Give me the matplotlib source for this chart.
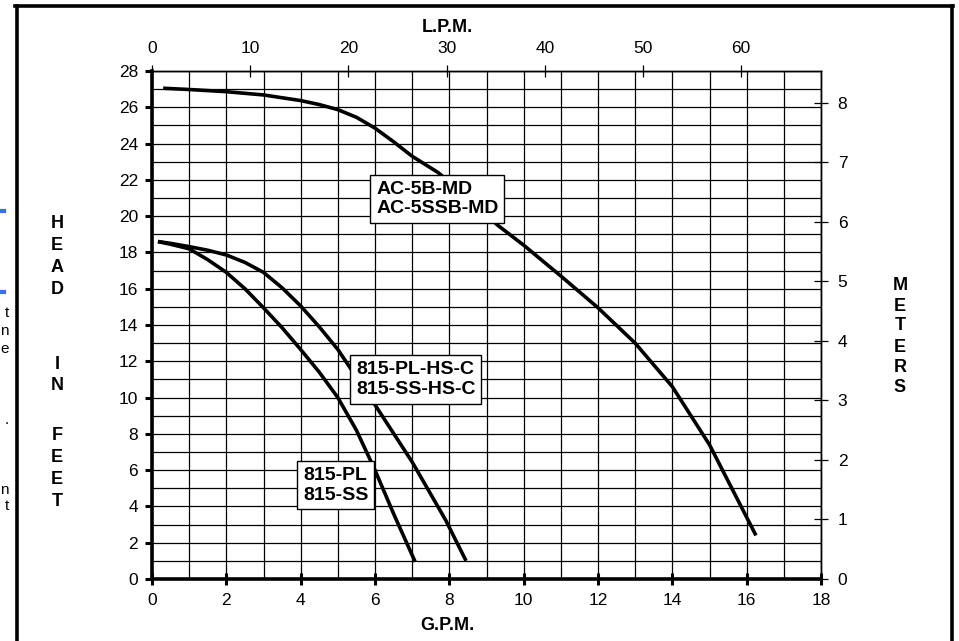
import matplotlib
import matplotlib.pyplot as plt
from matplotlib.lines import Line2D
matplotlib.use('agg')

plt.rcParams['font.family'] = ['Liberation Sans', 'DejaVu Sans']

# pump curves, head (ft) against flow (gpm)
ac_gpm = [0.3, 1, 2, 3, 4, 4.5, 5, 5.5, 6, 6.5, 7, 7.7, 8.5, 9.3, 10, 11, 12, 13, 14, 15, 16, 16.25]
ac_ft = [27.05, 26.98, 26.86, 26.68, 26.37, 26.15, 25.87, 25.45, 24.85, 24.1, 23.3, 22.4, 21.0, 19.5, 18.4, 16.7, 14.95, 13.0, 10.6, 7.4, 3.4, 2.4]

hsc_gpm = [0.16, 0.5, 1.0, 1.5, 2.0, 2.5, 3.0, 3.5, 4.0, 4.5, 5.0, 6.0, 7.0, 7.9, 8.45]
hsc_ft = [18.6, 18.5, 18.32, 18.12, 17.86, 17.45, 16.9, 16.05, 15.05, 13.9, 12.65, 9.6, 6.45, 3.25, 1.0]

pl_gpm = [0.16, 0.5, 1.0, 1.5, 2.0, 2.5, 3.0, 3.5, 4.0, 4.5, 5.0, 5.5, 6.0, 6.5, 7.08]
pl_ft = [18.6, 18.45, 18.2, 17.6, 16.9, 16.0, 14.95, 13.85, 12.65, 11.4, 10.0, 8.2, 6.0, 3.6, 0.95]

labels = ['AC-5B-MD\nAC-5SSB-MD', '815-PL-HS-C\n815-SS-HS-C', '815-PL\n815-SS']
label_x = [6.03, 5.49, 4.06]
label_y = [20.95, 11.0, 5.17]

gpm_ticks = list(range(0, 19, 2))
ft_ticks = list(range(0, 29, 2))
lpm_ticks = list(range(0, 61, 10))
m_ticks = list(range(0, 9))

fig = plt.figure(figsize=(9.59, 6.41), dpi=100)
W, H = 959, 641
ax = fig.add_axes([152 / W, 62 / H, (821 - 152) / W, 508 / H])

ax.set_xlim(0, 18)
ax.set_ylim(0, 28)
ax.set_xticks(range(0, 19), minor=True)
ax.set_yticks(range(0, 29), minor=True)
ax.set_xticks(gpm_ticks)
ax.set_yticks(ft_ticks)
ax.grid(which='both', color='black', lw=0.9)
ax.tick_params(axis='x', which='major', direction='inout', length=8, width=2.2, labelsize=12.5, pad=6)
ax.tick_params(axis='y', which='major', direction='out', length=5, width=2.2, labelsize=12.5, pad=5)
ax.tick_params(which='minor', length=0)
for s in ['left', 'bottom']:
    ax.spines[s].set_linewidth(2.6)
for s in ['top', 'right']:
    ax.spines[s].set_linewidth(1.0)

for xs, ys in [(ac_gpm, ac_ft), (hsc_gpm, hsc_ft), (pl_gpm, pl_ft)]:
    ax.plot(xs, ys, color='black', lw=2.6, solid_capstyle='butt', solid_joinstyle='round', zorder=3)

for t, x, y in zip(labels, label_x, label_y):
    ax.text(x, y, t, fontsize=14, fontweight='bold', ha='left', va='center', linespacing=1.2,
            zorder=4, bbox=dict(boxstyle='square,pad=0.3', fc='white', ec='black', lw=1.0))

top = ax.secondary_xaxis('top', functions=(lambda g: g * 3.785, lambda l: l / 3.785))
top.set_xticks(lpm_ticks)
top.tick_params(direction='inout', length=9, width=0.9, labelsize=12.5, pad=6)
top.spines['top'].set_linewidth(1.0)

right = ax.secondary_yaxis('right', functions=(lambda f: f * 0.3048, lambda m: m / 0.3048))
right.set_yticks(m_ticks)
right.tick_params(direction='inout', length=10, width=0.9, labelsize=12.5, pad=7)
right.spines['right'].set_linewidth(1.0)

fig.text(447 / W, 1 - 27 / H, 'L.P.M.', ha='center', va='center', fontsize=13, fontweight='bold')
fig.text(447 / W, 1 - 626 / H, 'G.P.M.', ha='center', va='center', fontsize=13, fontweight='bold')

head_letters = ['H', 'E', 'A', 'D', 'I', 'N', 'F', 'E', 'E', 'T']
head_y = [224, 246, 268, 290, 364, 386, 436, 458, 480, 502]
for c, y in zip(head_letters, head_y):
    fig.text(57 / W, 1 - y / H, c, ha='center', va='center', fontsize=13, fontweight='bold')

m_letters = ['M', 'E', 'T', 'E', 'R', 'S']
m_y = [285, 306, 326, 347, 367, 387]
for c, y in zip(m_letters, m_y):
    fig.text(900 / W, 1 - y / H, c, ha='center', va='center', fontsize=13, fontweight='bold')

# outer frame, open at the bottom
fig.add_artist(Line2D([16.5 / W, 16.5 / W], [0, 1 - 6 / H], color='black', lw=2.6))
fig.add_artist(Line2D([15 / W, 953 / W], [1 - 6 / H, 1 - 6 / H], color='black', lw=2.6))
fig.add_artist(Line2D([951.5 / W, 951.5 / W], [0, 1 - 6 / H], color='black', lw=2.6))

# scraps of the neighbouring page at the left edge
for y in [211, 292]:
    fig.add_artist(Line2D([0, 4 / W], [1 - y / H, 1 - y / H], color='#3a6df0', lw=3))
for c, y in zip(['t', 'n', 'e', '.', 'n', 't'], [313, 331, 349, 420, 490, 506]):
    fig.text(9 / W, 1 - y / H, c, ha='right', va='center', fontsize=11)

plt.savefig('out.png', dpi=100)
plt.close(fig)
